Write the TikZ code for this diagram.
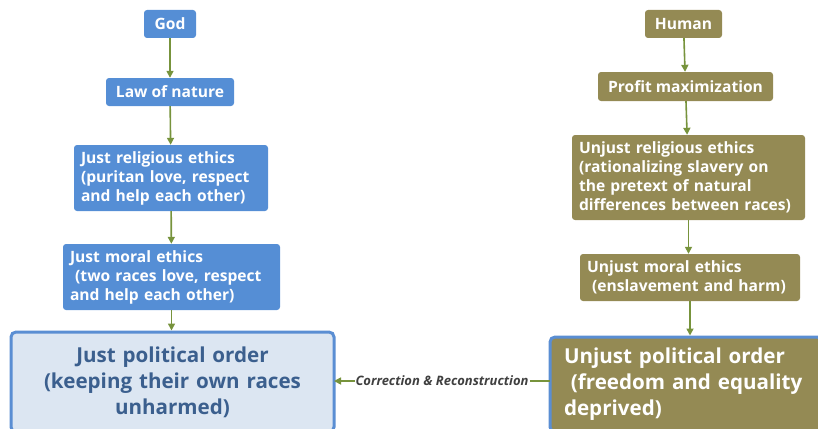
\documentclass[tikz,border=0pt]{standalone}
\usepackage{fontspec}
\setmainfont{Open Sans}
\usetikzlibrary{arrows.meta}
\definecolor{bluebox}{HTML}{558ED5}
\definecolor{olivebox}{HTML}{948A54}
\definecolor{greenarr}{HTML}{77933C}
\definecolor{lightblue}{HTML}{DCE6F2}
\definecolor{darkbluetext}{HTML}{3B5F8E}
\definecolor{bordblue}{HTML}{5A8ED3}
\begin{document}
\begin{tikzpicture}[x=1pt,y=-1pt,
  base/.style={rounded corners=3pt, inner sep=0pt, text=white, font=\bfseries\fontsize{15.6}{19}\selectfont},
  bluesm/.style={base, fill=bluebox},
  olivesm/.style={base, fill=olivebox},
  arr/.style={draw=greenarr, line width=1.6pt, -{Triangle[length=7pt,width=7pt]}},
  big/.style={rounded corners=5pt, line width=3pt, draw=bordblue, inner sep=0pt, font=\bfseries\fontsize{20.6}{26}\selectfont}
]
\useasboundingbox (0,0) rectangle (818,428);
\begin{scope}
\clip (0,0) rectangle (818,428);
% left column
\node[bluesm, minimum width=52pt, minimum height=28pt] (god) at (170,24) {God};
\node[bluesm, minimum width=128pt, minimum height=28pt] (law) at (170,92) {Law of nature};
\node[bluesm, minimum width=194pt, minimum height=66pt, text width=180pt, align=left] (jre) at (171,178) {Just religious ethics\\(puritan love, respect\\and help each other)};
\node[bluesm, minimum width=217pt, minimum height=66pt, text width=203pt, align=left] (jme) at (171.5,277) {Just moral ethics\\\ (two races love, respect\\and help each other)};
\node[big, fill=lightblue, text=darkbluetext, minimum width=323pt, minimum height=100pt, text width=316pt, align=center] (jpo) at (172.5,382) {Just political order\\(keeping their own races\\unharmed)};
% right column
\node[olivesm, minimum width=77pt, minimum height=28pt] (hum) at (683.5,24) {Human};
\node[olivesm, minimum width=175pt, minimum height=29pt] (pro) at (685.5,86.5) {Profit maximization};
\node[olivesm, minimum width=233pt, minimum height=85pt, text width=219pt, align=left] (ure) at (688.5,177.5) {Unjust religious ethics\\(rationalizing slavery on\\the pretext of natural\\differences between races)};
\node[olivesm, minimum width=220pt, minimum height=47pt, text width=206pt, align=left] (ume) at (690,277.5) {Unjust moral ethics\\\ (enslavement and harm)};
\node[big, fill=olivebox, text=white, minimum width=272pt, minimum height=95pt, text width=258pt, align=left] (upo) at (686,384.5) {\hspace*{7pt}Unjust political order\\\hspace*{7pt}\ (freedom and equality\\\hspace*{7pt}deprived)};
% arrows
\draw[arr] (god) -- (law);
\draw[arr] (law) -- (jre);
\draw[arr] (jre) -- (jme);
\draw[arr] (jme.south) -- (jpo.north -| jme.south);
\draw[arr] (hum) -- (pro);
\draw[arr] (pro) -- (ure);
\draw[arr] (ure.south) -- (ume.north -| ure.south);
\draw[arr] (ume.south) -- (upo.north -| ume.south);
\coordinate (ls) at (550,381);
\coordinate (le) at (334,381);
\draw[arr] (ls) -- (le) node[midway, fill=white, inner sep=1pt, text=black!75, font=\bfseries\itshape\fontsize{13}{15}\selectfont] (lab) {Correction \& Reconstruction};
\end{scope}
\end{tikzpicture}
\end{document}
